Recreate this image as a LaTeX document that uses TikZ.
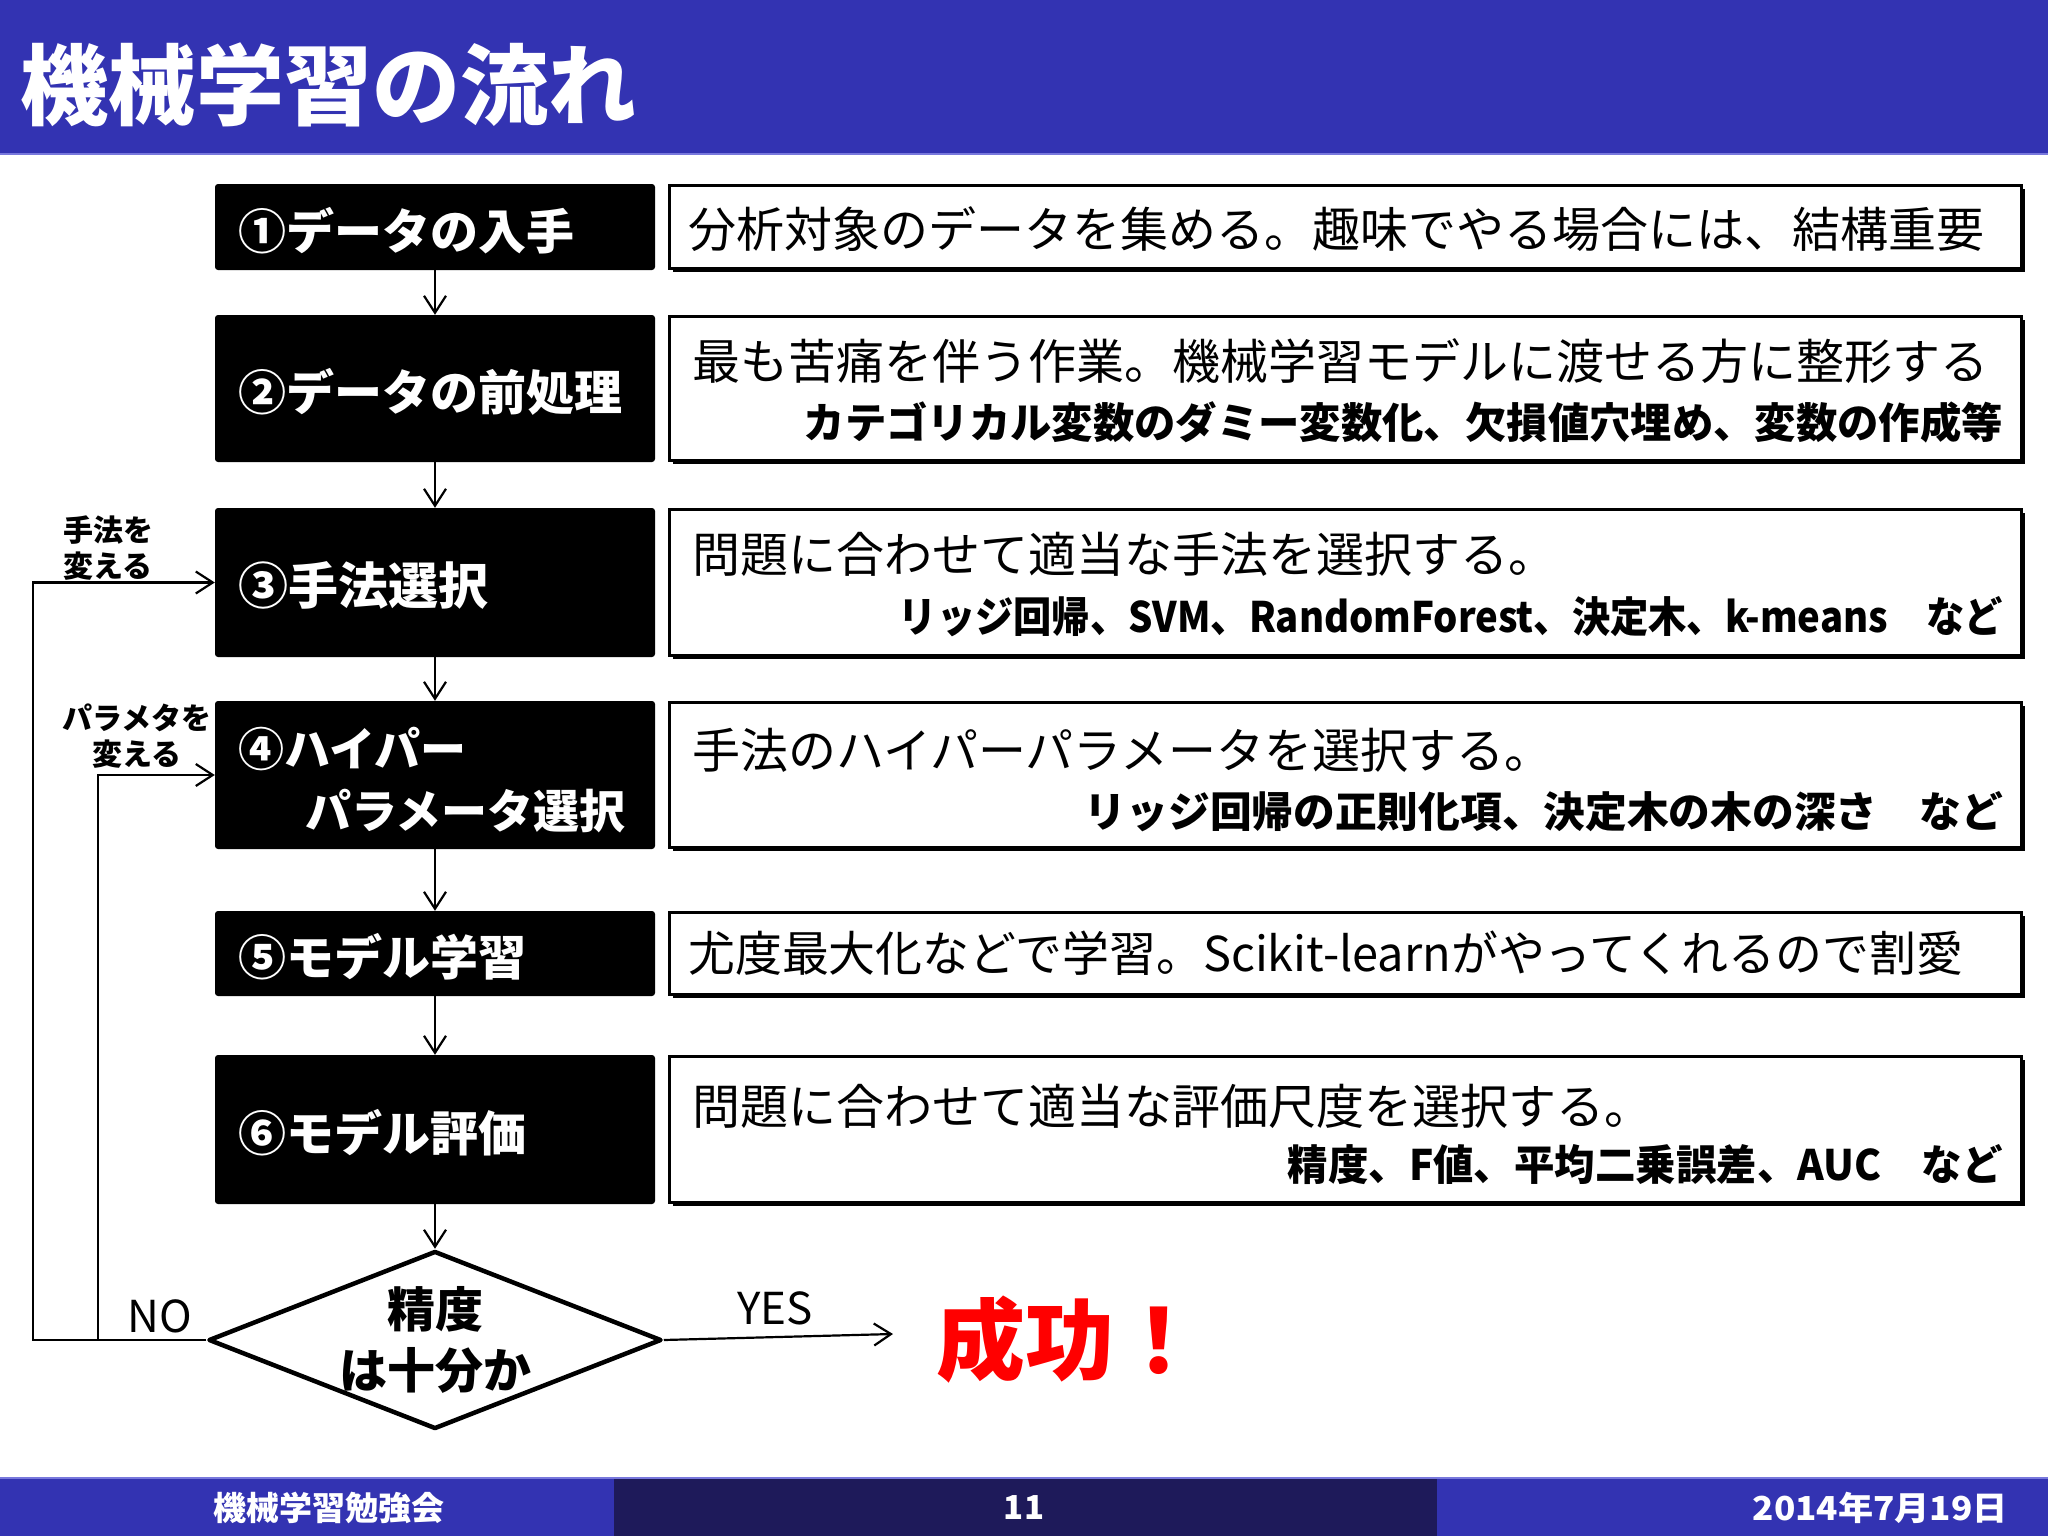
\documentclass[tikz,border=0pt]{standalone}
\usepackage{fontspec}
\setmainfont{Noto Sans CJK JP}
\usepackage{graphicx}
\usetikzlibrary{arrows.meta,shapes.geometric,shadows}
\definecolor{hdrblue}{RGB}{51,51,178}
\definecolor{ftrdark}{RGB}{30,26,90}
\definecolor{hdrline}{RGB}{120,120,220}
\newcommand{\fs}[1]{\fontsize{#1}{#1}\selectfont}
\newcommand{\fitw}[2]{\resizebox{#1pt}{\height}{#2}}
\begin{document}
\begin{tikzpicture}[x=1pt,y=-1pt,
  bbox/.style={fill=black, rounded corners=3pt, text=white, font=\bfseries\fs{48},
    inner xsep=23pt, inner ysep=0pt, align=left, text width=394pt},
  oneline/.style={text height=46pt, text depth=2pt},
  rbox/.style={draw=black, line width=3.5pt, fill=white, minimum width=1352pt, inner sep=0pt,
    drop shadow={shadow xshift=3pt, shadow yshift=-3pt, opacity=1, fill=black}},
  lnone/.style={anchor=west, inner sep=0pt, font=\fs{48}},
  lntwo/.style={anchor=east, inner sep=0pt, font=\bfseries\fs{42}},
  flow/.style={line width=2.2pt, -{Straight Barb[length=17pt,width=22pt,line width=2.2pt]}},
  ftxt/.style={text=white, font=\bfseries\fs{33}, inner sep=0pt}]
\useasboundingbox (0,0) rectangle (2048,1536);
\fill[white] (0,0) rectangle (2048,1536);
% header
\fill[hdrblue] (0,0) rectangle (2048,154);
\draw[hdrline, line width=2pt] (0,154) -- (2048,154);
\node[anchor=west, inner sep=0pt, text=white, font=\bfseries\fs{88}] (title) at (20,85) {機械学習の流れ};
% footer
\fill[hdrblue] (0,1478) rectangle (614,1536);
\fill[ftrdark] (614,1478) rectangle (1437,1536);
\fill[hdrblue] (1437,1478) rectangle (2048,1536);
\draw[hdrline, line width=2pt] (0,1478) -- (2048,1478);
\node[ftxt] (ft1) at (329,1508) {機械学習勉強会};
\node[ftxt] (ft2) at (1024,1508) {11};
\node[ftxt, anchor=east] (ft3) at (2008,1508) {\fitw{255}{2014年7月19日}};
% black boxes
\node[bbox, oneline, minimum height=86pt] (b1) at (435,227) {①データの入手};
\node[bbox, oneline, minimum height=147pt] (b2) at (435,388.5) {②データの前処理};
\node[bbox, oneline, minimum height=149pt, font=\bfseries\fs{50}] (b3) at (435,582.5) {③手法選択};
\node[bbox, minimum height=148pt] (b4) at (435,775) {};
\node[anchor=west, inner sep=0pt, text=white, align=left, font=\bfseries\fontsize{46}{62}\selectfont] (b4t) at (238,780) {④ハイパー\\\hspace*{67pt}パラメータ選択};
\node[bbox, oneline, minimum height=85pt] (b5) at (435,953.5) {⑤モデル学習};
\node[bbox, oneline, minimum height=149pt] (b6) at (435,1129.5) {⑥モデル評価};
% right boxes
\node[rbox, minimum height=83pt] (r1) at (1345.5,227) {};
\node[rbox, minimum height=144pt] (r2) at (1345.5,388.5) {};
\node[rbox, minimum height=146pt] (r3) at (1345.5,582.5) {};
\node[rbox, minimum height=145pt] (r4) at (1345.5,775) {};
\node[rbox, minimum height=82pt] (r5) at (1345.5,953.5) {};
\node[rbox, minimum height=146pt] (r6) at (1345.5,1129.5) {};
% right box texts
\node[lnone] (t1) at (688,229) {分析対象のデータを集める。趣味でやる場合には、結構重要};
\node[lnone] (t2a) at (692,361) {最も苦痛を伴う作業。機械学習モデルに渡せる方に整形する};
\node[lntwo] (t2b) at (2003,422) {\fitw{1199}{カテゴリカル変数のダミー変数化、欠損値穴埋め、変数の作成等}};
\node[lnone] (t3a) at (692,554) {問題に合わせて適当な手法を選択する。};
\node[lntwo] (t3b) at (2003,617) {\fitw{1104}{リッジ回帰、SVM、RandomForest、決定木、k-means　など}};
\node[lnone] (t4a) at (692,750) {手法のハイパーパラメータを選択する。};
\node[lntwo] (t4b) at (2003,812) {\fitw{918}{リッジ回帰の正則化項、決定木の木の深さ　など}};
\node[lnone] (t5) at (688,953) {\fitw{1275}{尤度最大化などで学習。Scikit-learnがやってくれるので割愛}};
\node[lnone] (t6a) at (692,1106) {問題に合わせて適当な評価尺度を選択する。};
\node[lntwo] (t6b) at (2003,1165) {\fitw{715}{精度、F値、平均二乗誤差、AUC　など}};
% decision
\node[diamond, draw=black, line width=4.5pt, line join=round, fill=white, minimum width=453pt, minimum height=178pt, inner sep=0pt] (dia) at (435,1340) {};
\node[font=\bfseries\fontsize{48}{61}\selectfont, align=center, inner sep=0pt] (diat) at (435,1340) {精度\\は十分か};
% flow arrows
\draw[flow] (b1.south) -- (b2.north);
\draw[flow] (b2.south) -- (b3.north);
\draw[flow] (b3.south) -- (b4.north);
\draw[flow] (b4.south) -- (b5.north);
\draw[flow] (b5.south) -- (b6.north);
\draw[flow] (b6.south) -- (dia.north);
% feedback
\coordinate (j1) at (33,1340);
\coordinate (j2) at (98,1340);
\draw[flow] (dia.west) -- (j1) |- (b3.west);
\draw[flow] (j2) |- (b4.west);
\coordinate (yesend) at (893,1334);
\draw[flow] (dia.east) -- (yesend);
% labels
\node[font=\bfseries\fontsize{30}{36}\selectfont, align=center, inner sep=0pt] (lab1) at (108,548) {手法を\\変える};
\node[font=\bfseries\fontsize{30}{36}\selectfont, align=center, inner sep=0pt] (lab2) at (137,736) {パラメタを\\変える};
\node[font=\fs{44}, inner sep=0pt] (no) at (160,1316) {NO};
\node[font=\fs{44}, inner sep=0pt] (yes) at (775,1308) {YES};
\node[text=red, font=\bfseries\fs{89}, inner sep=0pt] (ok) at (1070,1340) {成功！};
\end{tikzpicture}
\end{document}
